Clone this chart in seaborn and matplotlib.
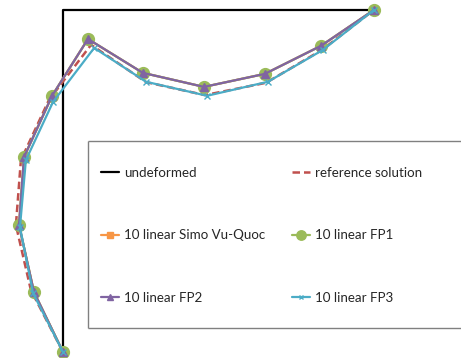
import numpy as np
import pandas as pd
import matplotlib
matplotlib.use("Agg")
import matplotlib.pyplot as plt
import seaborn as sns
from matplotlib.lines import Line2D

# Node coordinates, frame units
undeformed_x = [0, 0, 10]
undeformed_y = [0, 10, 10]

ref_x = [0.0, -1.03, -1.51, -1.35, -0.45, 0.90, 2.66, 4.55, 6.51, 8.30, 9.97]
ref_y = [0.0, 1.81, 3.71, 5.61, 7.37, 8.98, 7.89, 7.51, 7.87, 8.83, 10.0]

simo_x = [0.0, -0.93, -1.41, -1.25, -0.35, 0.80, 2.56, 4.52, 6.47, 8.27, 9.97]
simo_y = [0.0, 1.75, 3.71, 5.70, 7.49, 9.15, 8.16, 7.75, 8.13, 8.95, 10.0]

fp1_x = [0.0, -0.93, -1.41, -1.25, -0.35, 0.80, 2.56, 4.52, 6.47, 8.27, 9.97]
fp1_y = [0.0, 1.75, 3.71, 5.70, 7.49, 9.15, 8.16, 7.75, 8.13, 8.95, 10.0]

fp2_x = [0.0, -0.93, -1.41, -1.25, -0.35, 0.80, 2.56, 4.52, 6.47, 8.27, 9.97]
fp2_y = [0.0, 1.75, 3.71, 5.70, 7.49, 9.15, 8.16, 7.75, 8.13, 8.95, 10.0]

fp3_x = [0.0, -0.96, -1.38, -1.19, -0.32, 1.00, 2.66, 4.62, 6.57, 8.33, 9.97]
fp3_y = [0.0, 1.72, 3.65, 5.61, 7.31, 8.89, 7.90, 7.49, 7.90, 8.83, 10.0]

labels = ["undeformed", "reference solution", "10 linear Simo Vu-Quoc",
          "10 linear FP1", "10 linear FP2", "10 linear FP3"]

sns.set_style("white")
plt.rcParams["font.family"] = ["Lato", "DejaVu Sans"]

W, H = 461, 358
fig = plt.figure(figsize=(W / 100, H / 100), dpi=100)
ax = fig.add_axes([0, 0, 1, 1])

styles = [
    dict(x=undeformed_x, y=undeformed_y, color="black", lw=1.6, ls="-", marker=None, ms=0),
    dict(x=ref_x, y=ref_y, color="#C0504D", lw=1.8, ls=(0, (3, 1.6)), marker=None, ms=0),
    dict(x=simo_x, y=simo_y, color="#F79646", lw=1.6, ls="-", marker="s", ms=5),
    dict(x=fp1_x, y=fp1_y, color="#9BBB59", lw=1.6, ls="-", marker="o", ms=8.5),
    dict(x=fp2_x, y=fp2_y, color="#8064A2", lw=1.6, ls="-", marker="^", ms=6),
    dict(x=fp3_x, y=fp3_y, color="#4BACC6", lw=1.6, ls="-", marker="x", ms=4),
]

handles = []
for lab, st in zip(labels, styles):
    df = pd.DataFrame({"x": st["x"], "y": st["y"]})
    sns.lineplot(data=df, x="x", y="y", sort=False, estimator=None, ax=ax,
                 color=st["color"], linewidth=st["lw"], linestyle=st["ls"],
                 marker=st["marker"], markersize=st["ms"],
                 markeredgecolor=st["color"], markeredgewidth=1.0)
    handles.append(Line2D([], [], color=st["color"], lw=st["lw"], ls=st["ls"],
                          marker=st["marker"], markersize=st["ms"] * 0.8,
                          markeredgecolor=st["color"]))

ax.set_xlim(-2.02, 12.76)
ax.set_ylim(-0.175, 10.29)
ax.set_axis_off()

# legend frame runs off the right edge of the picture: two horizontal
# edges and the left edge only
left, top, bottom = 88 / W, 1 - 141 / H, 1 - 328 / H
for xs, ys in [([left, 1.0], [top, top]),
               ([left, left], [top, bottom]),
               ([left, 1.0], [bottom, bottom])]:
    fig.add_artist(Line2D(xs, ys, transform=fig.transFigure,
                          color="#808080", lw=1.0, solid_capstyle="butt"))

order = [0, 2, 4, 1, 3, 5]
leg = fig.legend([handles[i] for i in order], [labels[i] for i in order],
                 ncol=2, loc="upper left", bbox_to_anchor=(101 / W, 1 - 167 / H),
                 fontsize=9.6, frameon=False,
                 handlelength=1.35, handletextpad=0.35, columnspacing=2.05,
                 labelspacing=3.78, borderpad=0, borderaxespad=0)
leg.set_zorder(6)

fig.savefig("out.png", dpi=100)
